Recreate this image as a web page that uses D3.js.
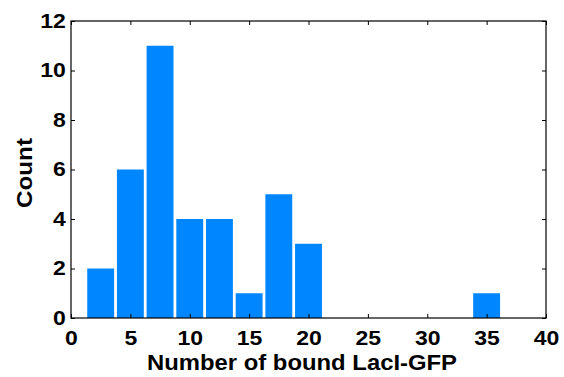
<!DOCTYPE html>
<html>
<head>
<meta charset="utf-8">
<script src="https://cdn.jsdelivr.net/npm/d3@7"></script>
<style>
body{margin:0;background:#fff;}
svg{display:block;font-family:"Liberation Sans",Arial,sans-serif;font-weight:bold;}
</style>
</head>
<body>
<svg id="chart" width="564" height="377"></svg>
<script>
// histogram bins (centers) and counts
const binCenters=[2.5,5,7.5,10,12.5,15,17.5,20,22.5,25,27.5,30,32.5,35];
const counts=[2,6,11,4,4,1,5,3,0,0,0,0,0,1];
const binWidth=2.5;
const xTicks=[0,5,10,15,20,25,30,35,40];
const yTicks=[0,2,4,6,8,10,12];

const svg=d3.select("#chart");
const m={l:71,r:18,t:21,b:59},W=564,H=377;

const x=d3.scaleLinear().domain([0,40]).range([m.l,W-m.r]);
const y=d3.scaleLinear().domain([0,12]).range([H-m.b,m.t]);

const bars=binCenters.map((c,i)=>({c,n:counts[i]})).filter(d=>d.n>0);

svg.selectAll("rect.bar").data(bars).join("rect").attr("class","bar")
  .attr("x",d=>x(d.c-binWidth/2)+1.4)
  .attr("width",d=>x(d.c+binWidth/2)-x(d.c-binWidth/2)-2.8)
  .attr("y",d=>y(d.n))
  .attr("height",d=>y(0)-y(d.n))
  .attr("fill","#0086ff");

// ticks inward on all four sides
const tk=4;
const xb=svg.append("g").attr("transform",`translate(0,${y(0)})`)
  .call(d3.axisBottom(x).tickValues(xTicks).tickSize(-tk).tickPadding(13))
  .call(g=>g.select(".domain").remove());
svg.append("g").attr("transform",`translate(0,${y(12)})`)
  .call(d3.axisTop(x).tickValues(xTicks).tickSize(-tk).tickFormat(""))
  .call(g=>g.select(".domain").remove());
const yl=svg.append("g").attr("transform",`translate(${x(0)},0)`)
  .call(d3.axisLeft(y).tickValues(yTicks).tickSize(-tk).tickPadding(4.5))
  .call(g=>g.select(".domain").remove());
svg.append("g").attr("transform",`translate(${x(40)},0)`)
  .call(d3.axisRight(y).tickValues(yTicks).tickSize(-tk).tickFormat(""))
  .call(g=>g.select(".domain").remove());

svg.selectAll(".tick text").attr("font-size",20).attr("font-family","Liberation Sans,Arial,sans-serif")
  .attr("font-weight","bold").attr("fill","#000")
  .attr("transform","scale(1.15,1)");
svg.selectAll(".tick line").attr("stroke","#000");

svg.append("rect")
  .attr("x",x(0)).attr("y",y(12))
  .attr("width",x(40)-x(0)).attr("height",y(0)-y(12))
  .attr("fill","none").attr("stroke","#000").attr("stroke-width",1.2);

svg.append("text")
  .attr("x",302).attr("y",370)
  .attr("text-anchor","middle").attr("font-size",22)
  .attr("textLength",310).attr("lengthAdjust","spacingAndGlyphs")
  .text("Number of bound LacI-GFP");

svg.append("text")
  .attr("transform",`translate(32,173) rotate(-90)`)
  .attr("text-anchor","middle").attr("font-size",22)
  .attr("textLength",70).attr("lengthAdjust","spacingAndGlyphs")
  .text("Count");
</script>
</body>
</html>
